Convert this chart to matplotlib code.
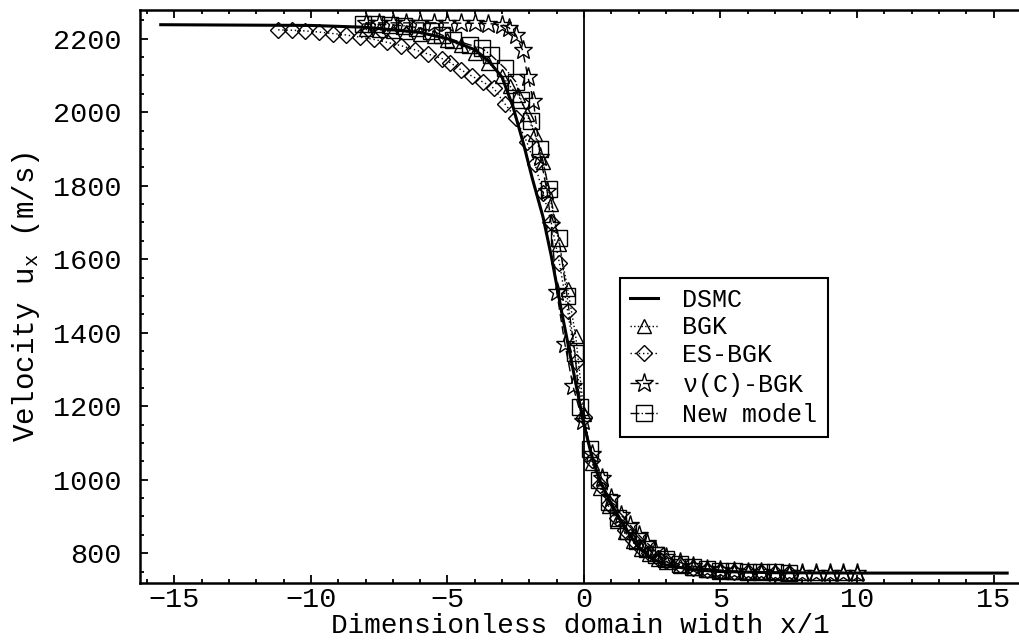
import numpy as np
import matplotlib
matplotlib.use("Agg")
import matplotlib.pyplot as plt
from matplotlib.ticker import MultipleLocator

# DSMC profile (solid line)
x_dsmc = [-15.5, -10, -8, -6, -5, -4, -3.5, -3, -2.6, -2.2, -1.9, -1.5, -1.2, -0.8,
          -0.4, 0, 0.3, 0.6, 1, 1.5, 2, 2.5, 3, 4, 5, 7, 10, 15.5]
u_dsmc = [2238, 2236, 2231, 2217, 2200, 2170, 2140, 2095, 2015, 1910, 1822, 1715, 1610, 1450,
          1300, 1150, 1060, 995, 935, 870, 815, 785, 768, 755, 750, 747, 746, 746]

# BGK (triangles)
x_bgk = [-8, -7.5, -7, -6.5, -6, -5.5, -5, -4.5, -4, -3.5, -3, -2.7, -2.4, -2.1, -1.8, -1.5,
         -1.2, -0.9, -0.6, -0.3, 0, 0.3, 0.6, 0.9, 1.2, 1.5, 1.8, 2.1, 2.4, 2.7, 3, 3.5, 4,
         4.5, 5, 5.5, 6, 6.5, 7, 7.5, 8, 8.5, 9, 9.5, 10]
u_bgk = [2225, 2224, 2222, 2219, 2214, 2207, 2196, 2182, 2162, 2135, 2098, 2070, 2046, 1995,
         1941, 1865, 1751, 1640, 1520, 1390, 1180, 1045, 978, 928, 888, 857, 832, 812, 797,
         785, 776, 766, 759, 755, 752, 750, 749, 748, 748, 747, 747, 747, 746, 746, 746]

# ES-BGK (diamonds)
x_es = [-11.2, -10.7, -10.2, -9.7, -9.2, -8.7, -8.2, -7.7, -7.2, -6.7, -6.2, -5.7, -5.2, -4.9,
        -4.5, -4.1, -3.7, -3.3, -2.9, -2.5, -2.1, -1.8, -1.5, -1.2, -0.9, -0.6, -0.3, 0, 0.3,
        0.6, 0.9, 1.2, 1.5, 1.8, 2.1, 2.4, 2.7, 3, 3.5, 4, 4.5, 5, 5.5, 6, 6.5, 7, 7.5]
u_es = [2224, 2223, 2221, 2218, 2214, 2210, 2204, 2198, 2190, 2181, 2170, 2158, 2146, 2135,
        2115, 2098, 2082, 2065, 2023, 1985, 1920, 1860, 1780, 1700, 1590, 1460, 1320, 1170,
        1055, 985, 935, 895, 862, 836, 815, 800, 788, 779, 768, 760, 755, 752, 750, 749, 748,
        747, 746]

# nu(C)-BGK (stars)
x_nu = [-8, -7.5, -7, -6.5, -6, -5.5, -5, -4.5, -4, -3.5, -3, -2.75, -2.5, -2.25, -2.05,
        -1.85, -1.6, -1.35, -1.2, -1.0, -0.7, -0.4, -0.05, 0.3, 0.65, 1.0, 1.35, 1.7, 2.0,
        2.3, 2.6, 3.0, 3.5, 4, 4.5, 5, 5.5, 6, 6.5, 7, 7.5, 8, 8.5, 9, 9.5, 10]
u_nu = [2243, 2243, 2243, 2243, 2243, 2243, 2243, 2242, 2242, 2241, 2238, 2230, 2211, 2169,
        2095, 2030, 1879, 1785, 1694, 1512, 1370, 1254, 1160, 1070, 1004, 950, 905, 876, 850,
        828, 810, 790, 775, 765, 758, 754, 751, 749, 748, 747, 747, 746, 746, 746, 746, 746]

# New model (squares)
x_new = [-8.1, -7.6, -7.1, -6.6, -6.1, -5.6, -5.2, -4.8, -4.17, -3.74, -3.4, -2.9, -2.5, -2.3,
         -1.95, -1.6, -1.28, -0.92, -0.62, -0.33, -0.15, 0.22, 0.55, 0.9, 1.25, 1.6, 1.95,
         2.3, 2.65, 3.0, 3.5, 4.0, 4.5, 5.0, 5.5, 6.0, 6.5, 7.0, 7.5]
u_new = [2240, 2239, 2238, 2235, 2230, 2222, 2210, 2197, 2183, 2174, 2155, 2120, 2083, 2032,
         1975, 1900, 1790, 1657, 1500, 1345, 1197, 1083, 1000, 940, 895, 860, 833, 812, 796,
         783, 770, 762, 756, 753, 751, 750, 749, 748, 747]

plt.rcParams['font.family'] = ['Liberation Mono', 'DejaVu Sans Mono']
plt.rcParams['mathtext.default'] = 'regular'

fig = plt.figure(figsize=(10.2, 6.41), dpi=100)
ax = fig.add_axes([140/1020, 58/641, 880/1020, 573/641])

mk = dict(color='black', mfc='none', mec='black', mew=1.0, lw=1.0)
ax.plot(x_dsmc, u_dsmc, '-', color='black', lw=2.2, label='DSMC')
ax.plot(x_bgk, u_bgk, marker='^', ls=':', ms=10, label='BGK', **mk)
ax.plot(x_es, u_es, marker='D', ls=(0, (1, 2)), ms=8, label='ES-BGK', **mk)
ax.plot(x_nu, u_nu, marker='*', ls=(0, (6, 3)), ms=14, label=r'$\nu$(C)-BGK', **mk)
ax.plot(x_new, u_new, marker='s', ls='-.', ms=11, label='New model', **mk)
ax.axvline(0, color='black', lw=1.3)

ax.set_xlim(-16.26, 15.97)
ax.set_ylim(719, 2278)
ax.xaxis.set_major_locator(MultipleLocator(5))
ax.xaxis.set_minor_locator(MultipleLocator(1))
ax.yaxis.set_major_locator(MultipleLocator(200))
ax.yaxis.set_minor_locator(MultipleLocator(50))
ax.tick_params(which='both', direction='in', top=True, right=False, width=1.3)
ax.tick_params(which='major', length=6, labelsize=20.5)
ax.tick_params(axis='y', which='major', pad=13)
ax.tick_params(axis='x', which='major', pad=3)
ax.tick_params(which='minor', length=3)
for s in ['left', 'bottom', 'top']:
    ax.spines[s].set_linewidth(1.8)
ax.spines['right'].set_visible(False)

ax.set_xlabel('Dimensionless domain width x/1', fontsize=20, labelpad=0)
ax.set_ylabel('Velocity u$_x$ (m/s)', fontsize=21, labelpad=8)

leg = ax.legend(loc='upper left', bbox_to_anchor=(1.32, 1550),
                bbox_transform=ax.transData, fontsize=18,
                fancybox=False, framealpha=1, edgecolor='black', handlelength=1.1,
                handletextpad=1.0, labelspacing=0.15, borderpad=0.4, borderaxespad=0)
leg.get_frame().set_linewidth(1.5)

fig.savefig('out.png', dpi=100)
